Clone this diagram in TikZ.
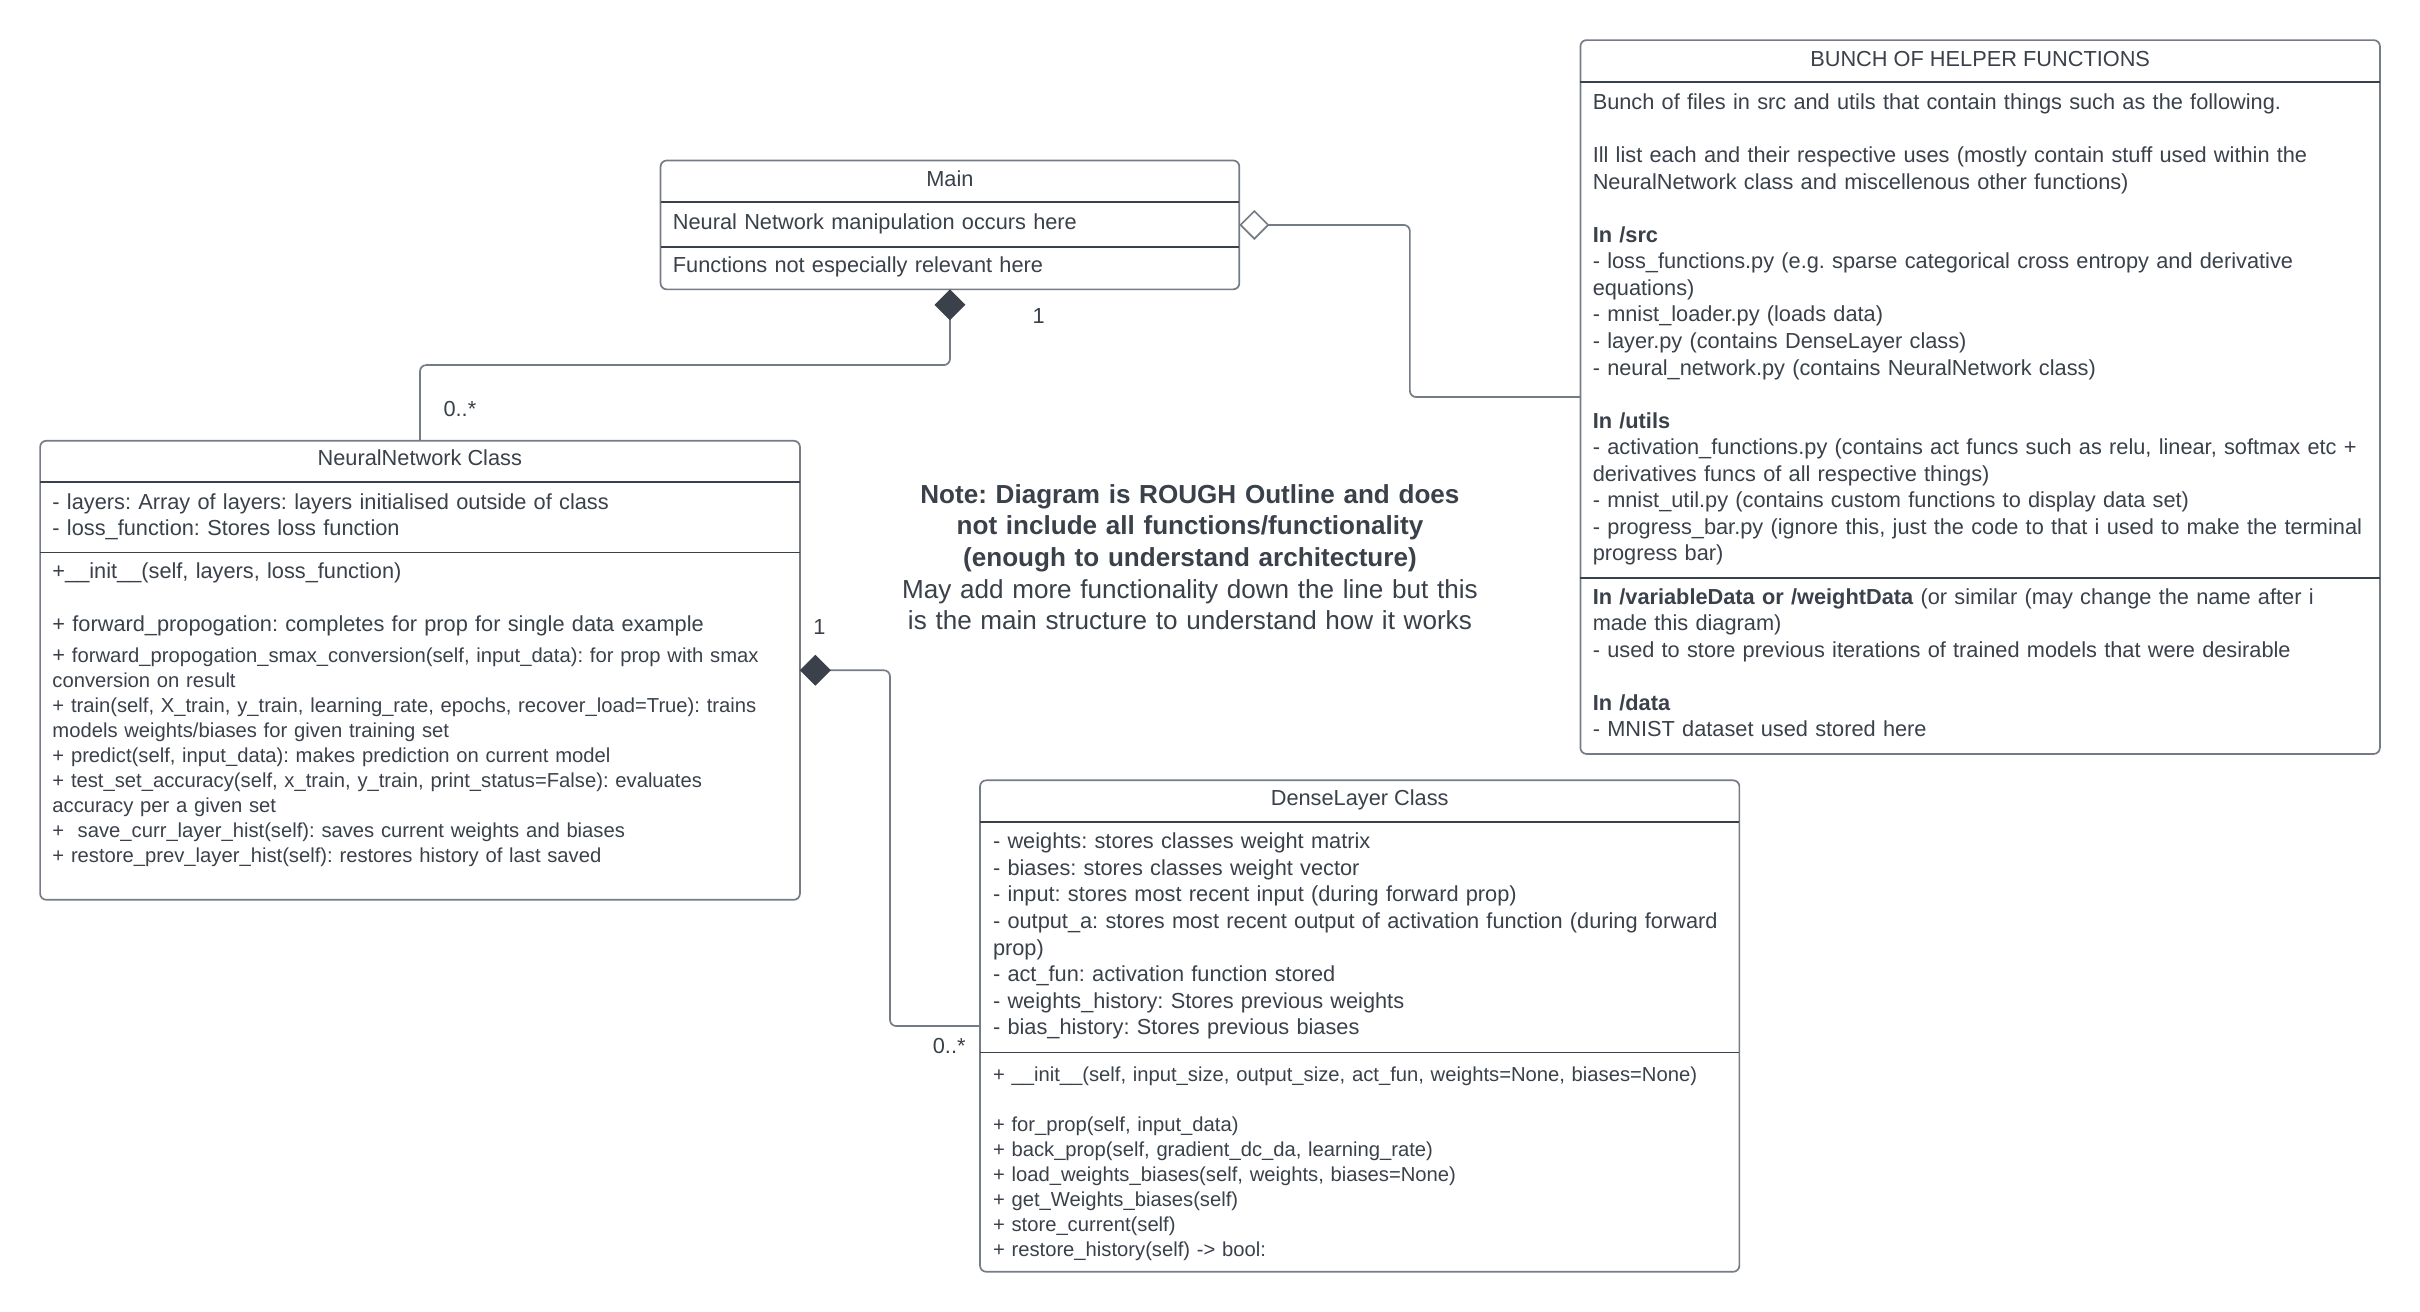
\documentclass[tikz,border=0pt]{standalone}
\usepackage{fontspec}
\setmainfont{Liberation Sans}
\usetikzlibrary{arrows.meta,calc}

\definecolor{ink}{HTML}{3A414A}
\definecolor{edge}{HTML}{767C85}

% type sizes: regular rows, compact method rows, centred note
\newcommand\umlreg{\fontsize{14.1pt}{17.2pt}\selectfont}
\newcommand\umlsmall{\fontsize{13.1pt}{16.2pt}\selectfont}
\newcommand\umlnote{\fontsize{16.9pt}{20.5pt}\selectfont}
\newcommand\umlgap{\\[\baselineskip]}

\tikzset{
  umlbox/.style={draw=edge, line width=1.1pt, rounded corners=4pt, fill=white,
                 inner sep=0pt, outer sep=0pt, anchor=north west},
  sepline/.style={draw=ink, line width=1pt},
  conn/.style={draw=edge, line width=1.1pt, rounded corners=4pt},
  body/.style={text=ink, inner sep=0pt, outer sep=0pt, anchor=base west,
               align=left, text width=600pt},
  title/.style={text=ink, inner sep=0pt, outer sep=0pt, anchor=base, font=\umlreg},
  mult/.style={text=ink, inner sep=0pt, outer sep=0pt, font=\umlreg},
  filleddia/.style={-{Diamond[length=20pt,width=20pt,color=ink,fill=ink]}},
  opendia/.style={-{Diamond[length=19.5pt,width=19.5pt,fill=white]}},
}

\begin{document}
\frenchspacing
\begin{tikzpicture}[x=1pt,y=-1pt]
\useasboundingbox (0,0) rectangle (1568,850);
\fill[white] (0,0) rectangle (1568,850);

% ---------- class boxes ----------
\node[umlbox, minimum width=375pt,   minimum height=83.5pt]  (main)   at (428,104) {};
\node[umlbox, minimum width=492.3pt, minimum height=297.4pt] (nn)     at (26,285.6) {};
\node[umlbox, minimum width=492pt,   minimum height=318.4pt] (dense)  at (635,505.6) {};
\node[umlbox, minimum width=518pt,   minimum height=462.5pt] (helper) at (1024,26) {};

% compartment separators
\draw[sepline] (main.west |- 0,131)     -- (main.east |- 0,131);
\draw[sepline] (main.west |- 0,160)     -- (main.east |- 0,160);
\draw[sepline] (nn.west |- 0,312.3)     -- (nn.east |- 0,312.3);
\draw[sepline] (nn.west |- 0,357.9)     -- (nn.east |- 0,357.9);
\draw[sepline] (dense.west |- 0,532.6)  -- (dense.east |- 0,532.6);
\draw[sepline] (dense.west |- 0,682)    -- (dense.east |- 0,682);
\draw[sepline] (helper.west |- 0,53)    -- (helper.east |- 0,53);
\draw[sepline] (helper.west |- 0,374.6) -- (helper.east |- 0,374.6);

% ---------- Main ----------
\node[title] (mainTitle) at (615.5,121) {Main};
\node[body, font=\umlreg] (mainAttr) at (436,149) {Neural Network manipulation occurs here};
\node[body, font=\umlreg] (mainOps)  at (436,176.7) {Functions not especially relevant here};

% ---------- NeuralNetwork ----------
\node[title] (nnTitle) at (272,301.7) {NeuralNetwork Class};
\node[body, font=\umlreg] (nnAttr) at (34,329.8)
  {- layers: Array of layers: layers initialised outside of class\\
   - loss\_function: Stores loss function};
\node[body, font=\umlreg] (nnOpsA) at (34,374.7)
  {+\_\_init\_\_(self, layers, loss\_function)\umlgap
   + forward\_propogation: completes for prop for single data example};
\node[body, font=\umlsmall] (nnOpsB) at (34,429.1)
  {{\umlreg+} forward\_propogation\_smax\_conversion(self, input\_data): for prop with smax\\
   conversion on result\\
   + train(self, X\_train, y\_train, learning\_rate, epochs, recover\_load=True): trains\\
   models weights/biases for given training set\\
   + predict(self, input\_data): makes prediction on current model\\
   + test\_set\_accuracy(self, x\_train, y\_train, print\_status=False): evaluates\\
   accuracy per a given set\\
   +\ \ save\_curr\_layer\_hist(self): saves current weights and biases\\
   + restore\_prev\_layer\_hist(self): restores history of last saved};

% ---------- DenseLayer ----------
\node[title] (denseTitle) at (881,522) {DenseLayer Class};
\node[body, font=\umlreg] (denseAttr) at (643.4,550)
  {- weights: stores classes weight matrix\\
   - biases: stores classes weight vector\\
   - input: stores most recent input (during forward prop)\\
   - output\_a: stores most recent output of activation function (during forward\\
   prop)\\
   - act\_fun: activation function stored\\
   - weights\_history: Stores previous weights\\
   - bias\_history: Stores previous biases};
\node[body, font=\umlsmall] (denseOps) at (643.4,700.9)
  {+ \_\_init\_\_(self, input\_size, output\_size, act\_fun, weights=None, biases=None)\umlgap
   + for\_prop(self, input\_data)\\
   + back\_prop(self, gradient\_dc\_da, learning\_rate)\\
   + load\_weights\_biases(self, weights, biases=None)\\
   + get\_Weights\_biases(self)\\
   + store\_current(self)\\
   + restore\_history(self) -> bool:};

% ---------- helper functions ----------
\node[title] (helperTitle) at (1283,43) {BUNCH OF HELPER FUNCTIONS};
\node[body, font=\umlreg] (helperSrc) at (1032,71)
  {Bunch of files in src and utils that contain things such as the following.\umlgap
   Ill list each and their respective uses (mostly contain stuff used within the\\
   NeuralNetwork class and miscellenous other functions)\umlgap
   \textbf{In /src}\\
   - loss\_functions.py (e.g. sparse categorical cross entropy and derivative\\
   equations)\\
   - mnist\_loader.py (loads data)\\
   - layer.py (contains DenseLayer class)\\
   - neural\_network.py (contains NeuralNetwork class)\umlgap
   \textbf{In /utils}\\
   - activation\_functions.py (contains act funcs such as relu, linear, softmax etc +\\
   derivatives funcs of all respective things)\\
   - mnist\_util.py (contains custom functions to display data set)\\
   - progress\_bar.py (ignore this, just the code to that i used to make the terminal\\
   progress bar)};
\node[body, font=\umlreg] (helperData) at (1032,391.5)
  {\textbf{In /variableData or /weightData} (or similar (may change the name after i\\
   made this diagram)\\
   - used to store previous iterations of trained models that were desirable\umlgap
   \textbf{In /data}\\
   - MNIST dataset used stored here};

% ---------- note ----------
\node[text=ink, inner sep=0pt, outer sep=0pt, font=\umlnote, align=center,
      text width=440pt, anchor=base] (note) at (771,326)
  {\textbf{Note: Diagram is ROUGH Outline and does}\\
   \textbf{not include all functions/functionality}\\
   \textbf{(enough to understand architecture)}\\
   May add more functionality down the line but this\\
   is the main structure to understand how it works};

% ---------- relationships ----------
\coordinate (elbowA) at ($(main.east)!0.5!(helper.west)$);
\draw[conn, opendia] (helper.west) -| (elbowA) |- (main.east);

\coordinate (elbowB) at ($(nn.north)!0.5!(main.south)$);
\draw[conn, filleddia] (nn.north) |- (elbowB) -| (main.south);

\coordinate (elbowC) at ($(nn.east)!0.5!(dense.west)$);
\draw[conn, filleddia] (dense.west) -| (elbowC) |- (nn.east);

% multiplicities
\node[mult] (multMain)  at (673,205) {1};
\node[mult] (multNN)    at (298,265) {0..*};
\node[mult] (multOwner) at (531,406) {1};
\node[mult] (multDense) at (615,678) {0..*};
\end{tikzpicture}
\end{document}
